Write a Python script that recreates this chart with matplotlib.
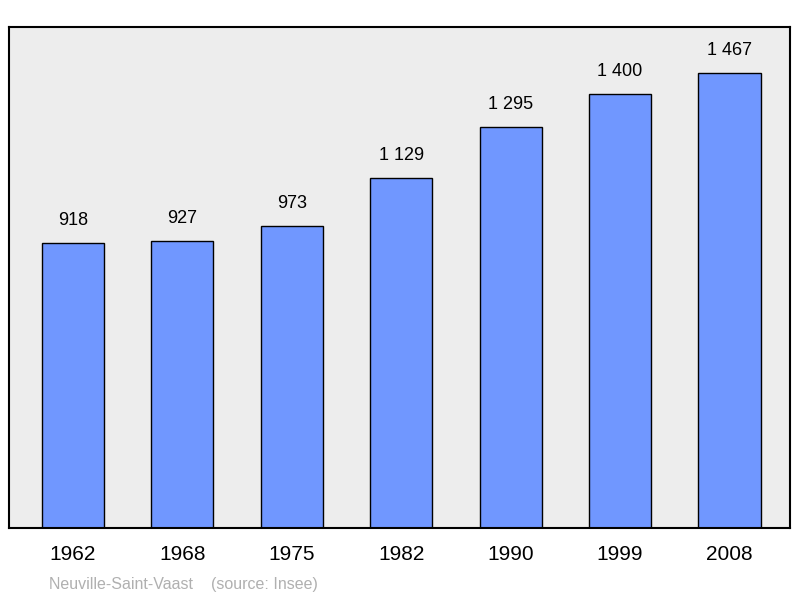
import matplotlib
matplotlib.use("Agg")
import matplotlib.pyplot as plt

years = ["1962", "1968", "1975", "1982", "1990", "1999", "2008"]
population = [918, 927, 973, 1129, 1295, 1400, 1467]
value_labels = ["918", "927", "973", "1 129", "1 295", "1 400", "1 467"]

plt.rcParams['font.family'] = ['Liberation Sans', 'DejaVu Sans']
fig = plt.figure(figsize=(8, 5.98), dpi=100)
ax = fig.add_axes([9/800, 70/598, 781/800, 501/598])
ax.set_facecolor('#ededed')
x = list(range(len(years)))
ax.bar(x, population, width=0.567, color='#7097ff', edgecolor='black', linewidth=1)
for xi, v, lab in zip(x, population, value_labels):
    ax.text(xi, v + 45, lab, ha='center', va='bottom', fontsize=13)
ax.set_xlim(-0.585, 6.553)
ax.set_ylim(0, 1616)
ax.set_yticks([])
ax.set_xticks(x)
ax.set_xticklabels(years, fontsize=15)
ax.tick_params(axis='x', length=0, pad=12)
for s in ax.spines.values():
    s.set_linewidth(1.5)
fig.text(49/800, 1-584/598, "Neuville-Saint-Vaast    (source: Insee)", fontsize=11.5,
         color='#b0b0b0', va='center')
fig.savefig("out.png", dpi=100)
